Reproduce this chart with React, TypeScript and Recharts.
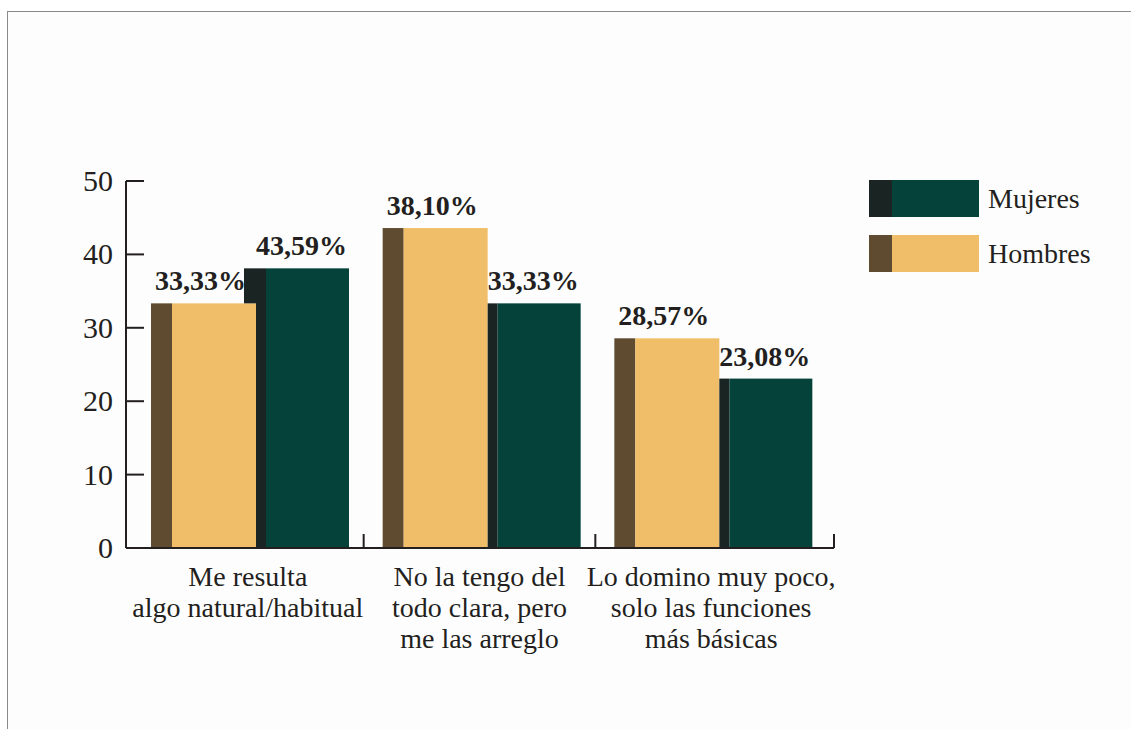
import React from "react";
import { BarChart, Bar, XAxis, YAxis, LabelList } from "recharts";

const categories = [
  "Me resulta\nalgo natural/habitual",
  "No la tengo del\ntodo clara, pero\nme las arreglo",
  "Lo domino muy poco,\nsolo las funciones\nmás básicas",
];
const hombresValues = [33.33, 43.59, 28.57];
const mujeresValues = [38.1, 33.33, 23.08];
const hombresLabels = ["33,33%", "38,10%", "28,57%"];
const mujeresLabels = ["43,59%", "33,33%", "23,08%"];
const yTicks = [0, 10, 20, 30, 40, 50];
const seriesNames = ["Mujeres", "Hombres"];

const FONT = "'Liberation Serif', 'Times New Roman', serif";
const INK = "#231f20";
const TAN = "#f0be68";
const TAN_DARK = "#5f4b2f";
const GREEN = "#04423a";
const GREEN_DARK = "#1a2523";

const data = categories.map((c, i) => ({
  cat: c,
  hombres: hombresValues[i],
  mujeres: mujeresValues[i],
  hLabel: hombresLabels[i],
  mLabel: mujeresLabels[i],
}));

const BAR_W = 105;
const GAP = -12;
const PAD_L = 8;
const PAD_R = 5;

const HombresShape = (props: any) => {
  const { x, y, width, height } = props;
  const strip = 21;
  return (
    <g>
      <rect x={x} y={y} width={strip} height={height} fill={TAN_DARK} />
      <rect x={x + strip} y={y} width={width - strip} height={height} fill={TAN} />
    </g>
  );
};

const MujeresShape = (props: any) => {
  const { x, y, width, height, value, payload } = props;
  const strip = 22;
  const overlap = -GAP;
  const v = Array.isArray(value) ? value[1] - value[0] : value;
  const pxPerUnit = v ? height / v : 0;
  const bottom = y + height;
  const hTop = bottom - payload.hombres * pxPerUnit;
  const hiddenH = Math.max(0, hTop - y);
  return (
    <g>
      {hiddenH > 0 && <rect x={x} y={y} width={overlap} height={hiddenH} fill={GREEN_DARK} />}
      <rect x={x + overlap} y={y} width={strip - overlap} height={height} fill={GREEN_DARK} />
      <rect x={x + strip} y={y} width={width - strip} height={height} fill={GREEN} />
    </g>
  );
};

const makeLabel = (shift: number) => (props: any) => {
  const { x, y, width, value } = props;
  return (
    <text
      x={x + width / 2 + shift}
      y={y - 13}
      textAnchor="middle"
      fontFamily={FONT}
      fontWeight="bold"
      fontSize={28}
      fill={INK}
    >
      {value}
    </text>
  );
};

const YTick = (props: any) => {
  const { x, y, payload } = props;
  return (
    <g>
      {payload.value !== 0 && (
        <line x1={x} x2={x + 18} y1={y} y2={y} stroke={INK} strokeWidth={2} />
      )}
      <text x={x - 13} y={y} dy={10} textAnchor="end" fontFamily={FONT} fontSize={30} fill={INK}>
        {payload.value}
      </text>
    </g>
  );
};

const XTick = (props: any) => {
  const { x, y, payload, index } = props;
  const off = payload.offset ?? 0;
  const isLast = index === categories.length - 1;
  const tx = x + off + (isLast ? PAD_R : -2);
  const lines = String(payload.value).split("\n");
  return (
    <g>
      <line x1={tx} x2={tx} y1={y} y2={y - 14} stroke={INK} strokeWidth={2} />
      <text textAnchor="middle" fontFamily={FONT} fontSize={28} fill={INK}>
        {lines.map((l, i) => (
          <tspan key={i} x={x - 2} y={y + 38 + i * 31}>
            {l}
          </tspan>
        ))}
      </text>
    </g>
  );
};

const legendColors: Record<string, [string, string]> = {
  Mujeres: [GREEN_DARK, GREEN],
  Hombres: [TAN_DARK, TAN],
};

export default function App() {
  return (
    <div
      style={{
        position: "absolute",
        left: 0,
        top: 0,
        width: 1131,
        height: 729,
        background: "#ffffff",
        overflow: "hidden",
      }}
    >
      <div
        style={{
          position: "absolute",
          left: 7,
          top: 11,
          width: 1140,
          height: 730,
          borderTop: "1.5px solid #8a8a8a",
          borderLeft: "1.5px solid #8a8a8a",
          background: "#fdfdfd",
        }}
      />
      <div style={{ position: "absolute", left: 0, top: 0 }}>
        <BarChart
          width={1131}
          height={729}
          data={data}
          margin={{ top: 181, right: 297, bottom: 61, left: 26 }}
          barSize={BAR_W}
          barGap={GAP}
        >
          <XAxis
            dataKey="cat"
            height={120}
            padding={{ left: PAD_L, right: PAD_R }}
            axisLine={{ stroke: INK, strokeWidth: 2 }}
            tickLine={false}
            tickSize={0}
            tickMargin={0}
            tick={<XTick />}
            interval={0}
          />
          <YAxis
            width={100}
            domain={[0, 50]}
            ticks={yTicks}
            axisLine={{ stroke: INK, strokeWidth: 2 }}
            tickLine={false}
            tickSize={0}
            tickMargin={0}
            tick={<YTick />}
            interval={0}
          />
          <Bar dataKey="hombres" name="Hombres" shape={<HombresShape />} isAnimationActive={false}>
            <LabelList dataKey="hLabel" content={makeLabel(-3)} />
          </Bar>
          <Bar dataKey="mujeres" name="Mujeres" shape={<MujeresShape />} isAnimationActive={false}>
            <LabelList dataKey="mLabel" content={makeLabel(5)} />
          </Bar>
        </BarChart>
      </div>
      {seriesNames.map((name, i) => (
        <div
          key={name}
          style={{
            position: "absolute",
            left: 869,
            top: 180 + i * 55,
            height: 37,
            display: "flex",
            alignItems: "center",
          }}
        >
          <div style={{ width: 23, height: 37, background: legendColors[name][0] }} />
          <div style={{ width: 87, height: 37, background: legendColors[name][1] }} />
          <span
            style={{
              marginLeft: 9,
              fontFamily: FONT,
              fontSize: 28,
              color: INK,
              lineHeight: "37px",
            }}
          >
            {name}
          </span>
        </div>
      ))}
    </div>
  );
}
